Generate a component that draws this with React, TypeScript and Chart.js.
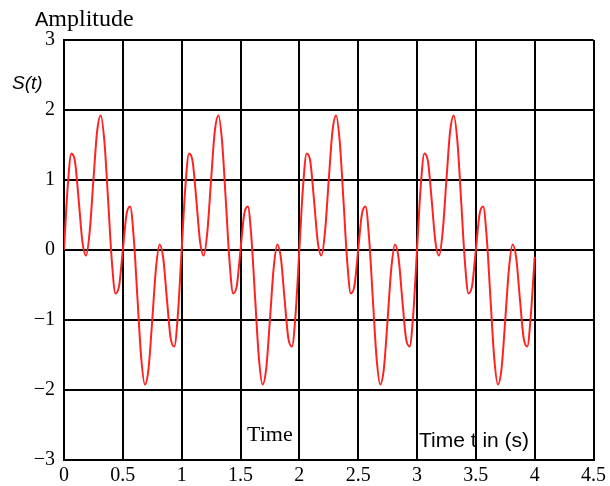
import React, { useEffect, useRef } from "react";
import { Chart, registerables } from "chart.js";

Chart.register(...registerables);

// Sample spacing of the signal (seconds)
const sampleStep = 0.03125;

// S(t), one value every 1/32 s from t = 0 to t = 4
const signalValues: number[] = [
  0, 0.9, 1.38, 1.26, 0.71, 0.12, -0.08, 0.27, 1.0, 1.69, 1.92, 1.54, 0.71, -0.15, -0.62, -0.51,
  0, 0.51, 0.62, 0.15, -0.71, -1.54, -1.92, -1.69, -1.0, -0.27, 0.08, -0.12, -0.71, -1.26, -1.38, -0.9,
  0, 0.9, 1.38, 1.26, 0.71, 0.12, -0.08, 0.27, 1.0, 1.69, 1.92, 1.54, 0.71, -0.15, -0.62, -0.51,
  0, 0.51, 0.62, 0.15, -0.71, -1.54, -1.92, -1.69, -1.0, -0.27, 0.08, -0.12, -0.71, -1.26, -1.38, -0.9,
  0, 0.9, 1.38, 1.26, 0.71, 0.12, -0.08, 0.27, 1.0, 1.69, 1.92, 1.54, 0.71, -0.15, -0.62, -0.51,
  0, 0.51, 0.62, 0.15, -0.71, -1.54, -1.92, -1.69, -1.0, -0.27, 0.08, -0.12, -0.71, -1.26, -1.38, -0.9,
  0, 0.9, 1.38, 1.26, 0.71, 0.12, -0.08, 0.27, 1.0, 1.69, 1.92, 1.54, 0.71, -0.15, -0.62, -0.51,
  0, 0.51, 0.62, 0.15, -0.71, -1.54, -1.92, -1.69, -1.0, -0.27, 0.08, -0.12, -0.71, -1.26, -1.38, -0.9,
  -0.1,
];

const xTickValues = [0, 0.5, 1, 1.5, 2, 2.5, 3, 3.5, 4, 4.5];
const xTickLabels = ["0", "0.5", "1", "1.5", "2", "2.5", "3", "3.5", "4", "4.5"];
const yTickValues = [-3, -2, -1, 0, 1, 2, 3];
const yTickLabels = ["\u22123", "\u22122", "\u22121", "0", "1", "2", "3"];

const titleFirstLetter = "A";
const titleRest = "mplitude";
const yAxisName = "S(t)";
const timeLabel = "Time";
const timeUnitLabel = "Time t in (s)";

const SERIF = "'Liberation Serif', 'Times New Roman', serif";
const SANS = "'Liberation Sans', Arial, sans-serif";

export default function App() {
  const canvasRef = useRef<HTMLCanvasElement | null>(null);

  useEffect(() => {
    const canvas = canvasRef.current;
    if (!canvas) return;

    const points = signalValues.map((v, i) => ({ x: i * sampleStep, y: v }));

    const textPlugin = {
      id: "annotTexts",
      afterDraw(chart: any) {
        const ctx = chart.ctx as CanvasRenderingContext2D;
        ctx.save();
        ctx.fillStyle = "#000";
        ctx.textBaseline = "alphabetic";
        ctx.textAlign = "left";
        // Title "Amplitude"
        ctx.font = `20px ${SANS}`;
        ctx.fillText(titleFirstLetter, 35, 26);
        const aw = ctx.measureText(titleFirstLetter).width;
        ctx.font = `24px ${SERIF}`;
        ctx.fillText(titleRest, 35 + aw, 26);
        // S(t)
        ctx.font = `italic 19px ${SANS}`;
        ctx.fillText(yAxisName, 12, 89);
        // Time
        ctx.font = `22px ${SERIF}`;
        ctx.fillText(timeLabel, 247, 441);
        // Time t in (s)
        ctx.font = `21px ${SANS}`;
        ctx.fillText(timeUnitLabel, 419, 447);
        ctx.restore();
      },
    };

    const chart = new Chart(canvas, {
      type: "line",
      data: {
        datasets: [
          {
            data: points,
            borderColor: "#ff2222",
            borderWidth: 2,
            pointRadius: 0,
            fill: false,
            cubicInterpolationMode: "monotone",
          },
        ],
      },
      options: {
        responsive: false,
        animation: false,
        events: [],
        layout: { padding: { top: 40, right: 13, left: 0, bottom: 0 } },
        plugins: {
          legend: { display: false },
          tooltip: { enabled: false },
          title: { display: false },
        },
        scales: {
          x: {
            type: "linear",
            min: 0,
            max: 4.5,
            afterBuildTicks: (scale: any) => {
              scale.ticks = xTickValues.map((v) => ({ value: v }));
            },
            afterFit: (scale: any) => {
              scale.height = 26;
            },
            ticks: {
              autoSkip: false,
              maxRotation: 0,
              padding: 4,
              color: "#000",
              font: { family: SERIF, size: 20 },
              callback: (value: any) => {
                const idx = xTickValues.indexOf(Number(value));
                return idx >= 0 ? xTickLabels[idx] : "";
              },
            },
            grid: { color: "#000", lineWidth: 2, drawTicks: false },
            border: { display: true, color: "#000", width: 2 },
          },
          y: {
            type: "linear",
            min: -3,
            max: 3,
            afterBuildTicks: (scale: any) => {
              scale.ticks = yTickValues.map((v) => ({ value: v }));
            },
            afterFit: (scale: any) => {
              scale.width = 64;
            },
            ticks: {
              autoSkip: false,
              padding: 9,
              color: "#000",
              font: { family: SERIF, size: 20 },
              callback: (value: any) => {
                const idx = yTickValues.indexOf(Number(value));
                return idx >= 0 ? yTickLabels[idx] : "";
              },
            },
            grid: { color: "#000", lineWidth: 2, drawTicks: false },
            border: { display: true, color: "#000", width: 2 },
          },
        },
      },
      plugins: [textPlugin],
    } as any);

    return () => {
      chart.destroy();
    };
  }, []);

  return (
    <div style={{ position: "absolute", left: 0, top: 0, width: 610, height: 486, background: "#fff" }}>
      <canvas ref={canvasRef} width={610} height={486} style={{ display: "block" }} />
    </div>
  );
}
